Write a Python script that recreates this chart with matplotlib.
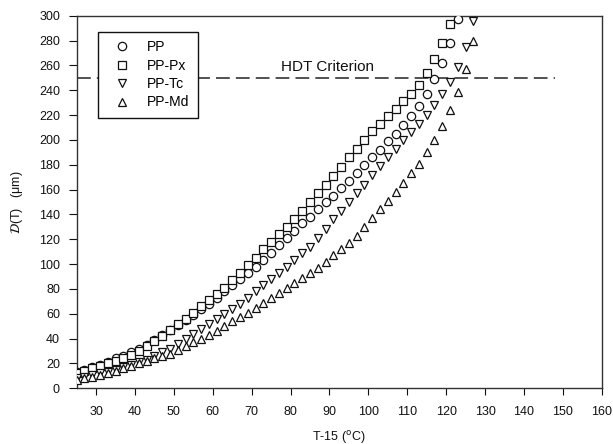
import matplotlib.pyplot as plt
import numpy as np

plt.rcParams['font.family'] = ['Liberation Sans', 'DejaVu Sans']

# T-15 (deg C) and deflection D(T) in micrometres
t_pp = list(range(25, 124, 2))
d_pp = [13, 15, 17, 19, 21, 24, 26, 29, 32, 35, 39, 43, 47, 51, 55, 59, 64, 68, 73, 78,
        83, 88, 93, 98, 103, 109, 115, 121, 127, 133, 138, 144, 150, 155, 161, 167, 173,
        180, 186, 192, 199, 205, 212, 219, 227, 237, 249, 262, 278, 297]

t_px = list(range(25, 122, 2))
d_px = [12, 14, 16, 18, 20, 22, 24, 27, 30, 34, 38, 42, 47, 52, 56, 61, 66, 71, 76, 81,
        87, 93, 99, 105, 112, 118, 124, 130, 136, 143, 150, 157, 164, 171, 178, 186, 193,
        200, 207, 213, 219, 225, 231, 237, 244, 254, 265, 278, 293]

t_tc = list(range(25, 128, 2))
d_tc = [8, 9, 11, 12, 13, 15, 17, 19, 21, 23, 26, 29, 32, 36, 40, 44, 48, 52, 56, 60,
        64, 68, 73, 78, 83, 88, 93, 98, 103, 109, 114, 121, 128, 136, 143, 150, 157, 164,
        172, 179, 186, 193, 200, 206, 213, 220, 228, 237, 247, 259, 275, 296]

t_md = list(range(25, 128, 2))
d_md = [7, 8, 9, 11, 12, 14, 16, 18, 20, 22, 24, 26, 28, 31, 34, 37, 40, 43, 46, 50,
        54, 57, 61, 65, 69, 73, 77, 81, 85, 89, 93, 97, 102, 107, 112, 117, 123, 130,
        137, 144, 151, 158, 165, 173, 181, 190, 200, 211, 224, 239, 257, 280]

hdt_level = 250

fig = plt.figure(figsize=(6.13, 4.44), dpi=100)
ax = fig.add_axes([0.125, 0.1255, 0.8566, 0.839])

ax.plot([25, 148], [hdt_level, hdt_level], color='#222222', lw=1.1,
        dashes=(9, 4), zorder=1)
ax.text(77.5, 253.5, 'HDT Criterion', fontsize=11, color='#111111', va='bottom')

style = dict(ls='none', mfc='white', mec='#111111', mew=0.9, ms=6, zorder=3)
ax.plot(t_pp, d_pp, marker='o', label='PP', **style)
ax.plot(t_px, d_px, marker='s', label='PP-Px', **style)
ax.plot(t_tc, d_tc, marker='v', label='PP-Tc', **style)
ax.plot(t_md, d_md, marker='^', label='PP-Md', **style)

ax.set_xlim(25, 160)
ax.set_ylim(0, 300)
ax.set_xticks(np.arange(30, 161, 10))
ax.set_yticks(np.arange(0, 301, 20))
ax.tick_params(direction='out', labelsize=9, colors='#111111', width=0.8)
ax.tick_params(axis='x', length=5, pad=7.5)
ax.tick_params(axis='y', length=6, pad=6)
for side in ax.spines.values():
    side.set_linewidth(1.0)
    side.set_color('#333333')

fig.text(0.553, 1 - 437 / 444, 'T-15 ($^{\\mathrm{o}}$C)', fontsize=9,
         ha='center', va='center', color='#111111')
fig.text(17 / 613, 1 - 202 / 444, '$\\mathcal{D}$(T)   (\u03bcm)', fontsize=9,
         rotation=90, ha='center', va='center', color='#111111')

leg = ax.legend(loc='upper left', bbox_to_anchor=(0.04, 0.957), fontsize=10,
                frameon=True, fancybox=False, edgecolor='#111111', framealpha=1,
                handlelength=2.3, handletextpad=0.65, borderpad=0.6,
                labelspacing=0.32, borderaxespad=0)
leg.get_frame().set_linewidth(1.0)
leg.set_zorder(5)

plt.savefig('out.png', dpi=100)
plt.close('all')
